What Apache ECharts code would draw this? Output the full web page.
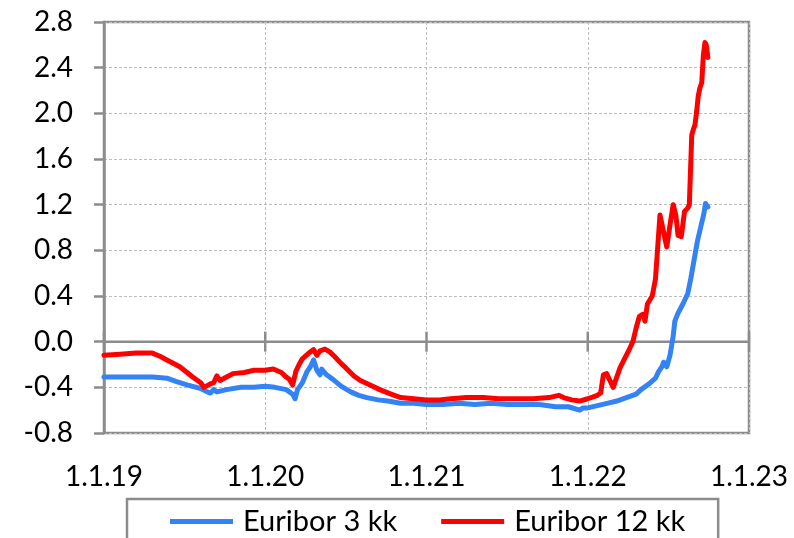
<!DOCTYPE html>
<html><head><meta charset="utf-8">
<script src="https://cdn.jsdelivr.net/npm/echarts@6/dist/echarts.min.js"></script>
<style>html,body{margin:0;padding:0;background:#fff}#c{width:794px;height:538px}</style>
</head><body><div id="c"></div>
<script>
// x tick labels (1 Jan of each year)
const xTickLabels = ['1.1.19', '1.1.20', '1.1.21', '1.1.22', '1.1.23'];
const xStartYear = 2019, xEndYear = 2023;
const yMin = -0.8, yMax = 2.8, yStep = 0.4;
const seriesNames = ['Euribor 3 kk', 'Euribor 12 kk'];

// Euribor 3 kk: time (decimal year) and rate (%)
const t3 = [2019.00, 2019.10, 2019.20, 2019.30, 2019.39, 2019.45, 2019.52, 2019.60, 2019.64, 2019.66,
  2019.68, 2019.70, 2019.76, 2019.85, 2019.93, 2020.00, 2020.06, 2020.13, 2020.17, 2020.185,
  2020.20, 2020.23, 2020.26, 2020.28, 2020.30, 2020.32, 2020.34, 2020.35, 2020.38, 2020.42,
  2020.47, 2020.53, 2020.58, 2020.63, 2020.70, 2020.76, 2020.84, 2020.92, 2021.00, 2021.10,
  2021.20, 2021.30, 2021.40, 2021.50, 2021.60, 2021.70, 2021.80, 2021.88, 2021.95, 2021.97,
  2022.00, 2022.06, 2022.12, 2022.18, 2022.24, 2022.30, 2022.33, 2022.38, 2022.42, 2022.44,
  2022.46, 2022.47, 2022.49, 2022.51, 2022.53, 2022.54, 2022.56, 2022.59, 2022.62, 2022.64,
  2022.66, 2022.68, 2022.70, 2022.72, 2022.73, 2022.745];
const v3 = [-0.31, -0.31, -0.31, -0.31, -0.32, -0.35, -0.38, -0.41, -0.44, -0.45,
  -0.42, -0.44, -0.42, -0.40, -0.40, -0.39, -0.40, -0.42, -0.46, -0.50,
  -0.42, -0.36, -0.26, -0.22, -0.16, -0.25, -0.29, -0.24, -0.29, -0.33,
  -0.39, -0.44, -0.47, -0.49, -0.51, -0.52, -0.54, -0.54, -0.55, -0.55,
  -0.54, -0.55, -0.54, -0.55, -0.55, -0.55, -0.57, -0.57, -0.60, -0.58,
  -0.58, -0.56, -0.54, -0.52, -0.49, -0.46, -0.42, -0.37, -0.32, -0.26,
  -0.22, -0.18, -0.22, -0.12, 0.05, 0.18, 0.25, 0.33, 0.42, 0.56,
  0.72, 0.88, 1.00, 1.12, 1.21, 1.18];

// Euribor 12 kk
const t12 = [2019.00, 2019.10, 2019.20, 2019.30, 2019.35, 2019.39, 2019.47, 2019.55, 2019.60, 2019.62,
  2019.66, 2019.68, 2019.70, 2019.72, 2019.76, 2019.80, 2019.87, 2019.93, 2020.00, 2020.05,
  2020.10, 2020.13, 2020.15, 2020.17, 2020.19, 2020.21, 2020.23, 2020.27, 2020.30, 2020.32,
  2020.34, 2020.37, 2020.40, 2020.43, 2020.47, 2020.50, 2020.55, 2020.59, 2020.65, 2020.71,
  2020.78, 2020.84, 2020.92, 2021.00, 2021.08, 2021.15, 2021.25, 2021.35, 2021.45, 2021.55,
  2021.66, 2021.76, 2021.82, 2021.85, 2021.90, 2021.95, 2022.00, 2022.06, 2022.08, 2022.097,
  2022.117, 2022.158, 2022.20, 2022.26, 2022.28, 2022.30, 2022.32, 2022.34, 2022.355, 2022.37,
  2022.40, 2022.42, 2022.435, 2022.448, 2022.47, 2022.49, 2022.51, 2022.53, 2022.547, 2022.56,
  2022.58, 2022.60, 2022.62, 2022.63, 2022.645, 2022.655, 2022.665, 2022.675, 2022.685, 2022.695,
  2022.707, 2022.717, 2022.727, 2022.735, 2022.745];
const v12 = [-0.12, -0.11, -0.10, -0.10, -0.13, -0.16, -0.22, -0.31, -0.36, -0.40,
  -0.37, -0.36, -0.30, -0.34, -0.31, -0.28, -0.27, -0.25, -0.25, -0.24,
  -0.27, -0.31, -0.33, -0.38, -0.26, -0.20, -0.15, -0.10, -0.07, -0.12,
  -0.08, -0.065, -0.09, -0.13, -0.19, -0.23, -0.30, -0.34, -0.38, -0.42,
  -0.46, -0.49, -0.50, -0.51, -0.51, -0.50, -0.49, -0.49, -0.50, -0.50,
  -0.50, -0.49, -0.47, -0.49, -0.51, -0.52, -0.50, -0.47, -0.45, -0.29,
  -0.28, -0.40, -0.23, -0.06, 0.00, 0.12, 0.22, 0.24, 0.18, 0.33,
  0.40, 0.55, 0.85, 1.11, 0.96, 0.83, 1.02, 1.20, 1.10, 0.93,
  0.92, 1.14, 1.17, 1.20, 1.81, 1.86, 1.90, 2.01, 2.15, 2.22,
  2.27, 2.51, 2.62, 2.60, 2.49];

const FONT = 'Lato';
const GRAY = '#8c8c8c';
const pair = (t, v) => t.map((x, i) => [x, v[i]]);

const chart = echarts.init(document.getElementById('c'), null, {renderer: 'canvas'});
chart.setOption({
  backgroundColor: '#ffffff',
  animation: false,
  grid: {left: 104, right: 45, top: 22, bottom: 105, show: true, borderColor: GRAY, borderWidth: 2.5,
         outerBoundsMode: 'none', containLabel: false},
  xAxis: {
    type: 'value', min: xStartYear, max: xEndYear, interval: 1,
    position: 'bottom',
    axisLine: {show: false, onZero: false},
    axisTick: {show: false},
    axisLabel: {show: true, margin: 30, color: '#000', fontFamily: FONT, fontSize: 28,
      formatter: v => xTickLabels[Math.round(v - xStartYear)]},
    splitLine: {show: true, lineStyle: {color: '#bdbdbd', width: 1, type: [3, 2]}}
  },
  yAxis: {
    type: 'value', min: yMin, max: yMax, interval: yStep,
    axisLine: {show: true, onZero: false, lineStyle: {color: GRAY, width: 2.5}},
    axisTick: {show: true, inside: false, length: 10, lineStyle: {color: GRAY, width: 2.5}},
    axisLabel: {margin: 31, color: '#000', fontFamily: FONT, fontSize: 28,
      formatter: v => v.toFixed(1)},
    splitLine: {show: true, lineStyle: {color: '#bdbdbd', width: 1, type: [3, 2]}}
  },
  legend: {
    left: 127, top: 499,
    orient: 'horizontal',
    borderColor: GRAY, borderWidth: 2.5,
    padding: [8, 33, 30, 43],
    itemGap: 44, itemWidth: 63, itemHeight: 5,
    icon: 'rect',
    textStyle: {color: '#000', fontFamily: FONT, fontSize: 29, padding: [0, 0, 0, 5]},
    data: seriesNames
  },
  series: [
    {name: seriesNames[0], type: 'line', data: pair(t3, v3), showSymbol: false, symbol: 'none',
     color: '#3383f4', lineStyle: {width: 5, color: '#3383f4', cap: 'round', join: 'round'}, z: 3},
    {name: seriesNames[1], type: 'line', data: pair(t12, v12), showSymbol: false, symbol: 'none',
     color: '#ff0000', lineStyle: {width: 5, color: '#ff0000', cap: 'round', join: 'round'}, z: 4}
  ]
});

// Horizontal axis line at zero with crossing tick marks, placed via the chart's own scales
function drawZeroAxis() {
  const y0 = chart.convertToPixel({yAxisIndex: 0}, 0);
  const xa = chart.convertToPixel({xAxisIndex: 0}, xStartYear);
  const xb = chart.convertToPixel({xAxisIndex: 0}, xEndYear);
  const els = [{type: 'line', silent: true, z: 1,
    shape: {x1: xa, y1: y0, x2: xb, y2: y0}, style: {stroke: GRAY, lineWidth: 2.5}}];
  for (let yr = xStartYear; yr <= xEndYear; yr++) {
    const x = chart.convertToPixel({xAxisIndex: 0}, yr);
    els.push({type: 'line', silent: true, z: 1,
      shape: {x1: x, y1: y0 - 10, x2: x, y2: y0 + 10}, style: {stroke: GRAY, lineWidth: 2.5}});
  }
  chart.setOption({graphic: {elements: els}});
}
drawZeroAxis();
</script>
</body></html>
